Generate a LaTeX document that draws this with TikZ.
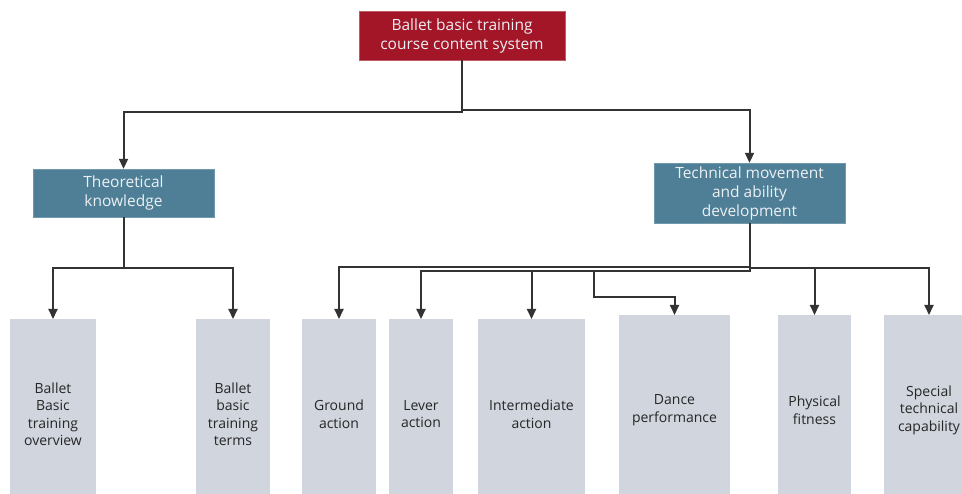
\documentclass[tikz,border=0pt]{standalone}
\usepackage{fontspec}
\setmainfont{Open Sans}
\usepackage{tikz}
\usetikzlibrary{arrows.meta,shapes,positioning}
\usepackage{xcolor}
\definecolor{dfred}{RGB}{163,22,40}
\definecolor{dfsteel}{RGB}{78,127,151}
\definecolor{dfgray}{RGB}{208,213,222}
\definecolor{dfline}{RGB}{51,51,51}
\definecolor{dftext}{RGB}{236,240,243}
\tikzstyle{arrow} = [line width=2pt,draw=dfline,-{Triangle[length=10pt,width=9pt]}]
\tikzstyle{rootbox} = [rectangle, inner sep=0pt, minimum width=206pt, minimum height=49pt, align=center, fill=dfred, draw=dfred!70!white, text=dftext, font=\fontsize{15.5}{19}\selectfont]
\tikzstyle{branchbox} = [rectangle, inner sep=0pt, minimum width=181pt, minimum height=48pt, align=center, fill=dfsteel, draw=dfsteel!80!white, text=dftext, font=\fontsize{15.5}{19}\selectfont]
\tikzstyle{leafbox} = [rectangle, anchor=north, inner sep=0pt, minimum height=190pt, align=center, fill=dfgray, text=black!85, font=\fontsize{14}{17.5}\selectfont]

\begin{document}
\begin{tikzpicture}[x=1pt,y=-1pt]
    \useasboundingbox (0,0) rectangle (962,494);

    % Top node
    \node[rootbox] (root) at (462,35.5) {Ballet basic training\\course content system};

    % Second level
    \node[branchbox] (theo) at (123.5,193) {Theoretical\\knowledge};
    \node[branchbox, minimum width=191pt, minimum height=60pt] (tech) at (749.5,193) {Technical movement\\and ability\\development};

    % Leaves - Theoretical knowledge
    \node[leafbox, minimum width=86pt] (overview) at (53,319) {Ballet\\Basic\\training\\overview};
    \node[leafbox, minimum width=74pt] (terms) at (233,319) {Ballet\\basic\\training\\terms};

    % Leaves - Technical movement
    \node[leafbox, minimum width=74pt] (ground) at (339,319) {Ground\\action};
    \node[leafbox, minimum width=64pt] (lever) at (421,319) {Lever\\action};
    \node[leafbox, minimum width=107pt] (inter) at (531.5,319) {Intermediate\\action};
    \node[leafbox, minimum width=111pt] (dance) at (674.5,315) {Dance\\performance};
    \node[leafbox, minimum width=73pt] (fitness) at (814.5,315) {Physical\\fitness};
    \node[leafbox, minimum width=90pt] (special) at (929,315) {Special\\technical\\capability};

    % Connections
    \draw[arrow] (root.south) -- ++(0,52) -| (theo.north);
    \draw[arrow] (root.south) -- ++(0,50) -| (tech.north);
    \draw[arrow] (theo.south) -- ++(0,51) -| (overview.north);
    \draw[arrow] (theo.south) -- ++(0,51) -| (terms.north);
    \draw[arrow] (tech.south) -- ++(0,44) -| (ground.north);
    \draw[arrow] (tech.south) -- ++(0,48) -| (lever.north);
    \draw[arrow] (tech.south) -- ++(0,48) -| (inter.north);
    \draw[arrow] (tech.south) |- (594,271) -- (594,297) -| (dance.north);
    \draw[arrow] (tech.south) -- ++(0,45) -| (fitness.north);
    \draw[arrow] (tech.south) -- ++(0,45) -| (special.north);
\end{tikzpicture}
\end{document}
